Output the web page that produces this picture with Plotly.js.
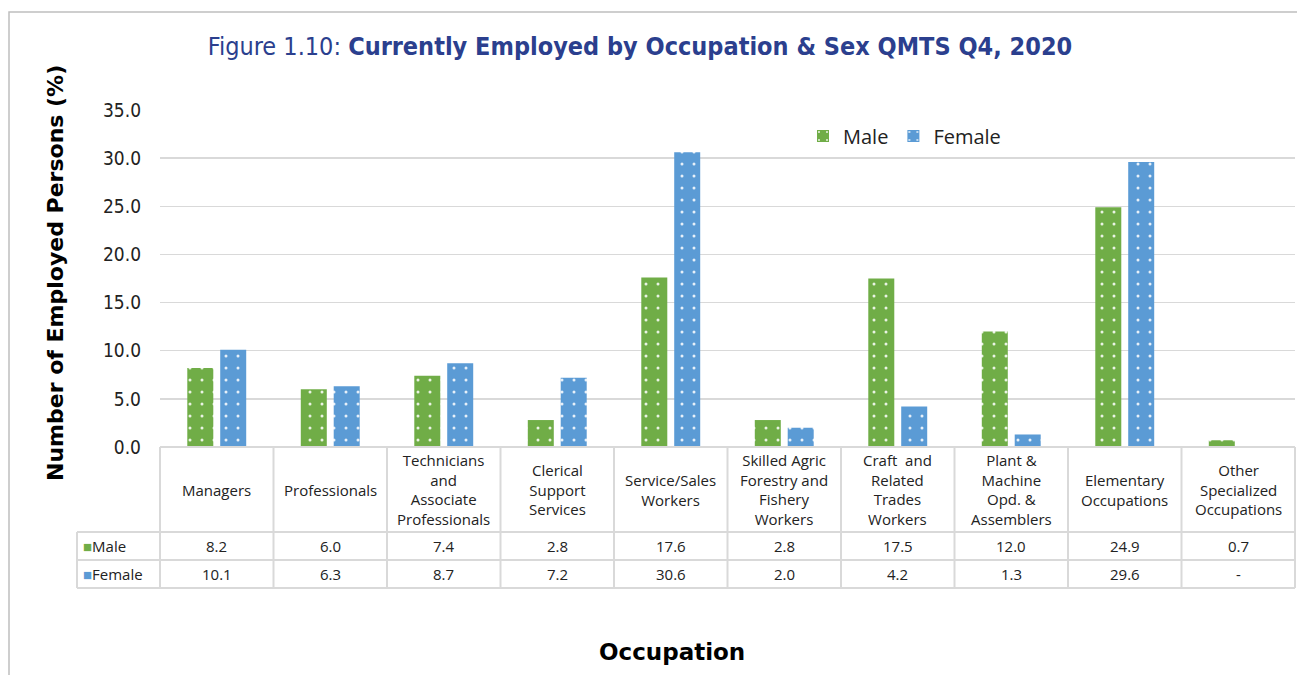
<!DOCTYPE html>
<html>
<head>
<meta charset="utf-8">
<script src="https://cdn.plot.ly/plotly-3.0.1.min.js"></script>
<style>html,body{margin:0;padding:0;background:#fff;}</style>
</head>
<body>
<div id="chart" style="width:1297px;height:675px;"></div>
<script>
const categories = ["Managers","Professionals","Technicians and Associate Professionals","Clerical Support Services","Service/Sales Workers","Skilled Agric Forestry and Fishery Workers","Craft and Related Trades Workers","Plant & Machine Opd. & Assemblers","Elementary Occupations","Other Specialized Occupations"];
const headerLabels = ["Managers","Professionals","Technicians<br>and<br>Associate<br>Professionals","Clerical<br>Support<br>Services","Service/Sales<br>Workers","Skilled Agric<br>Forestry and<br>Fishery<br>Workers","Craft  and<br>Related<br>Trades<br>Workers","Plant &<br>Machine<br>Opd. &<br>Assemblers","Elementary<br>Occupations","Other<br>Specialized<br>Occupations"];
const male = [8.2, 6.0, 7.4, 2.8, 17.6, 2.8, 17.5, 12.0, 24.9, 0.7];
const female = [10.1, 6.3, 8.7, 7.2, 30.6, 2.0, 4.2, 1.3, 29.6, null];
const yTicks = [0, 5, 10, 15, 20, 25, 30, 35];

const GREEN = '#70AD47', BLUE = '#5B9BD5', GRID = '#d9d9d9';
const W = 1297, H = 675;
const L = 160, R = 1295, T = 110, B = 447;
const pw = R - L, ph = B - T;
const px = x => (x - L) / pw;
const py = y => (B - y) / ph;
const tableFont = {family: '"Open Sans", Lato, sans-serif', size: 15, color: '#222'};

const traces = [
  {type: 'bar', name: 'Male', x: categories, y: male,
   marker: {color: GREEN, pattern: {shape: '.', fgcolor: 'rgba(255,255,255,0.85)', bgcolor: GREEN, size: 12, solidity: 0.05}},
   hoverinfo: 'x+y'},
  {type: 'bar', name: 'Female', x: categories, y: female,
   marker: {color: BLUE, pattern: {shape: '.', fgcolor: 'rgba(255,255,255,0.85)', bgcolor: BLUE, size: 12, solidity: 0.05}},
   hoverinfo: 'x+y'}
];

const shapes = [];
const annotations = [];
// outer frame
shapes.push({type: 'rect', xref: 'paper', yref: 'paper', x0: px(9), x1: px(1310), y0: py(12), y1: py(690),
  line: {color: '#bfbfbf', width: 1.5}, layer: 'below'});
// table lines
const rowLabelLeft = 77;
for (let i = 0; i <= categories.length; i++) {
  const x = L + i * pw / categories.length;
  shapes.push({type: 'line', xref: 'paper', yref: 'paper', x0: px(x), x1: px(x), y0: py(447), y1: py(588), line: {color: GRID, width: 2}});
}
shapes.push({type: 'line', xref: 'paper', yref: 'paper', x0: px(rowLabelLeft), x1: px(rowLabelLeft), y0: py(532), y1: py(588), line: {color: GRID, width: 2}});
shapes.push({type: 'line', xref: 'paper', yref: 'paper', x0: px(L), x1: px(R), y0: py(447), y1: py(447), line: {color: GRID, width: 2}});
[532, 560, 588].forEach(y => shapes.push({type: 'line', xref: 'paper', yref: 'paper', x0: px(rowLabelLeft), x1: px(R), y0: py(y), y1: py(y), line: {color: GRID, width: 2}}));

// header labels and table values
categories.forEach((c, i) => {
  annotations.push({xref: 'x', yref: 'paper', x: c, y: py(489.5), text: headerLabels[i], showarrow: false,
    font: tableFont, xanchor: 'center', yanchor: 'middle', align: 'center'});
  annotations.push({xref: 'x', yref: 'paper', x: c, y: py(546), text: male[i] == null ? '-' : male[i].toFixed(1), showarrow: false,
    font: tableFont, xanchor: 'center', yanchor: 'middle'});
  annotations.push({xref: 'x', yref: 'paper', x: c, y: py(574), text: female[i] == null ? '-' : female[i].toFixed(1), showarrow: false,
    font: tableFont, xanchor: 'center', yanchor: 'middle'});
});
annotations.push({xref: 'paper', yref: 'paper', x: px(81), y: py(546), xanchor: 'left', yanchor: 'middle', showarrow: false,
  text: "<span style='color:" + GREEN + "'>■</span>Male", font: tableFont});
annotations.push({xref: 'paper', yref: 'paper', x: px(81), y: py(574), xanchor: 'left', yanchor: 'middle', showarrow: false,
  text: "<span style='color:" + BLUE + "'>■</span>Female", font: tableFont});
// y axis title
annotations.push({xref: 'paper', yref: 'paper', x: px(55), y: py(273), xanchor: 'center', yanchor: 'middle', showarrow: false,
  textangle: -90, text: '<b>Number of Employed Persons (%)</b>', font: {family: '"DejaVu Sans", sans-serif', size: 22, color: '#000'}});
// x axis title
annotations.push({xref: 'paper', yref: 'paper', x: px(672), y: py(652), xanchor: 'center', yanchor: 'middle', showarrow: false,
  text: '<b>Occupation</b>', font: {family: '"DejaVu Sans", sans-serif', size: 23, color: '#000'}});

const layout = {
  width: W, height: H,
  margin: {l: L, r: W - R, t: T, b: H - B},
  paper_bgcolor: '#fff', plot_bgcolor: '#fff',
  title: {text: 'Figure 1.10: <b>Currently Employed by Occupation & Sex QMTS Q4, 2020</b>',
    x: 640 / W, xref: 'container', xanchor: 'center', y: 1 - 46 / H, yref: 'container', yanchor: 'middle',
    font: {family: '"Liberation Sans Narrow", "DejaVu Sans Condensed", sans-serif', size: 25, color: '#2B3F8E'}},
  barmode: 'group', bargap: 0.42, bargroupgap: 0.21,
  xaxis: {type: 'category', showticklabels: false, showgrid: false, zeroline: false, showline: false, ticks: '', fixedrange: true},
  yaxis: {range: [0, 35], tickvals: yTicks, ticktext: yTicks.map(v => v.toFixed(1)), showgrid: true, gridcolor: GRID, gridwidth: 1.5,
    zeroline: false, showline: false, ticks: '', ticklabelstandoff: 18,
    tickfont: {family: '"Liberation Sans Narrow", "DejaVu Sans Condensed", sans-serif', size: 19, color: '#222'}, fixedrange: true},
  showlegend: true,
  legend: {orientation: 'h', x: px(803), xanchor: 'left', y: py(136), yanchor: 'middle', bgcolor: 'rgba(0,0,0,0)',
    font: {family: '"Open Sans", Lato, sans-serif', size: 20, color: '#222'}, itemwidth: 30, tracegroupgap: 0},
  shapes: shapes,
  annotations: annotations
};

Plotly.newPlot('chart', traces, layout, {displayModeBar: false, staticPlot: true});
</script>
</body>
</html>
